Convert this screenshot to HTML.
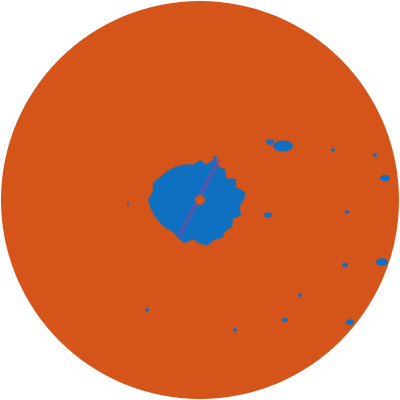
<!DOCTYPE html>
<html><head><meta charset="utf-8"><style>
html,body{margin:0;padding:0;background:#fff;width:400px;height:400px;overflow:hidden}
svg{display:block}
</style></head><body>
<svg id="radar" width="400" height="400" viewBox="0 0 400 400" xmlns="http://www.w3.org/2000/svg">
<circle cx="200" cy="200" r="199" fill="#d4541a"/>
<g id="echoes"></g>
<circle cx="200" cy="200" r="5" fill="#d4541a"/>
</svg>
<script>
// Central echo extent: azimuth (deg, clockwise from north) and range (px)
const blobAz = [0,10,20,30,40,50,60,70,80,90,100,110,120,130,140,150,160,170,180,190,200,210,220,230,240,250,260,270,280,290,300,310,320,330,340,350];
const blobRange = [40,36,44,38,40,34,42,38,46,44,40,44,38,42,40,44,42,46,44,40,46,44,42,44,46,48,50,52,48,50,46,44,42,40,38,36];
// Purple streak endpoints (azimuth, range)
const streakAz = [25,210];
const streakRange = [45,42];
// Outlying echoes: east offset, north offset, size (px)
const echoEast = [83,185,182,150,85,-53,35,68,133,147,175,145,100,-72,15,70];
const echoNorth = [54,22,-62,-122,-120,-110,-130,-15,50,-12,45,-65,-95,-4,42,58];
const echoSize = [10,5,6,4,3,2,2,4,2,2,2,3,2,1,2,4];

const cx=200, cy=200;
const g=document.getElementById('echoes');
const NS='http://www.w3.org/2000/svg';
function pt(az,r){const a=az*Math.PI/180;return [cx+r*Math.sin(a), cy-r*Math.cos(a)];}

let d='';
blobAz.forEach((az,i)=>{const p=pt(az,blobRange[i]);d+=(i?'L':'M')+p[0].toFixed(1)+','+p[1].toFixed(1);});
d+='Z';
const blob=document.createElementNS(NS,'path');
blob.setAttribute('d',d);blob.setAttribute('fill','#0f6fc0');


g.appendChild(blob);

const s1=pt(streakAz[0],streakRange[0]), s2=pt(streakAz[1],streakRange[1]);
const streak=document.createElementNS(NS,'line');
streak.setAttribute('x1',s1[0]);streak.setAttribute('y1',s1[1]);
streak.setAttribute('x2',s2[0]);streak.setAttribute('y2',s2[1]);
streak.setAttribute('stroke','#7a4aa0');streak.setAttribute('stroke-width','4');streak.setAttribute('opacity','0.6');


g.appendChild(streak);

echoEast.forEach((ex,i)=>{
  const e=document.createElementNS(NS,'ellipse');
  e.setAttribute('cx',cx+ex);e.setAttribute('cy',cy-echoNorth[i]);
  e.setAttribute('rx',echoSize[i]);e.setAttribute('ry',echoSize[i]*0.45+1);
  e.setAttribute('fill','#0f6fc0');
  
  
  g.appendChild(e);
});
</script>
</body></html>
